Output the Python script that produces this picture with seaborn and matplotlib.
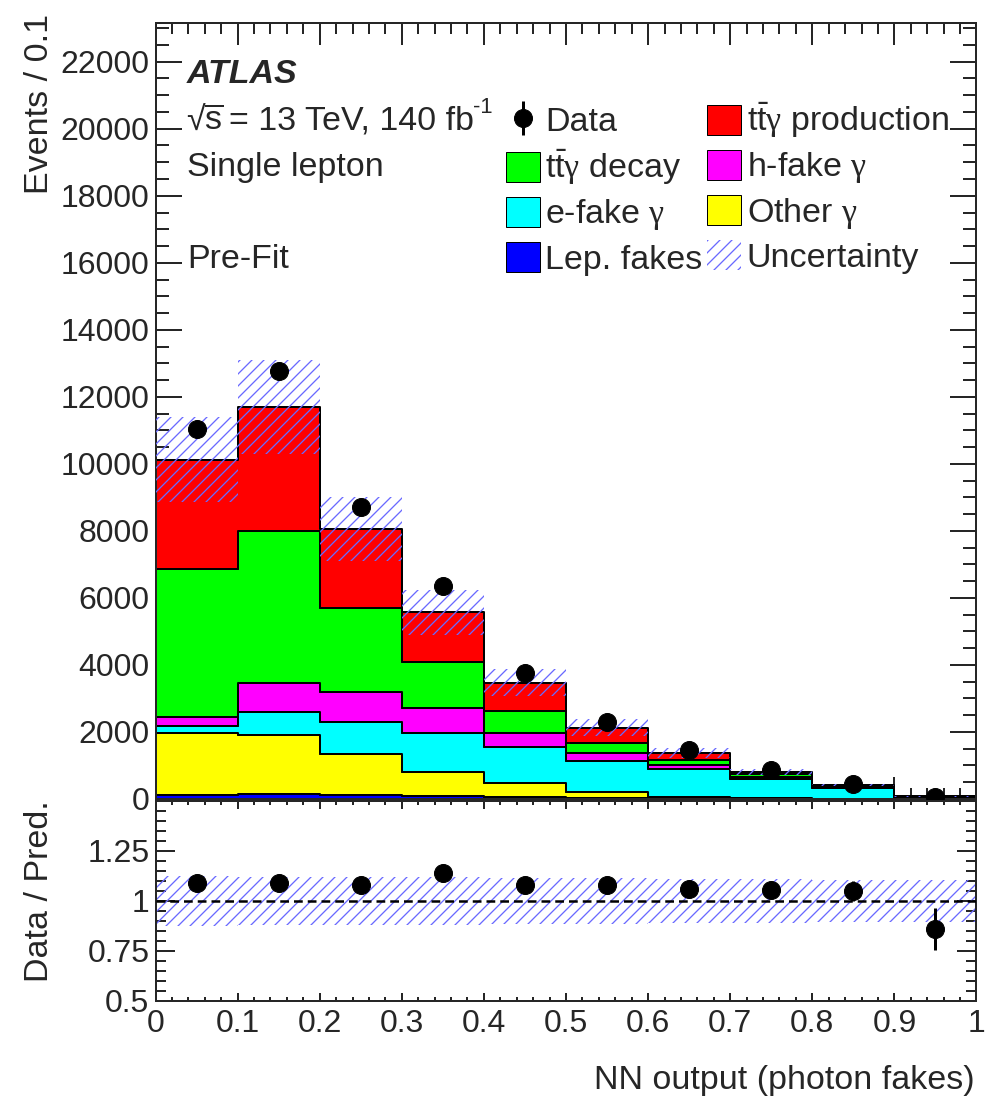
import numpy as np
import pandas as pd
import matplotlib
matplotlib.use("Agg")
import matplotlib.pyplot as plt
from matplotlib.ticker import AutoMinorLocator, FixedLocator, FormatStrFormatter
from matplotlib.patches import Patch
import seaborn as sns

# ---- binning and yields per process (events / 0.1) ----
bin_edges = [0.0, 0.1, 0.2, 0.3, 0.4, 0.5, 0.6, 0.7, 0.8, 0.9, 1.0]

process_labels = [
    r"$\mathrm{t\bar{t}}\mathsf{\gamma}$ production",
    r"$\mathrm{t\bar{t}}\mathsf{\gamma}$ decay",
    r"h-fake $\mathsf{\gamma}$",
    r"e-fake $\mathsf{\gamma}$",
    r"Other $\mathsf{\gamma}$",
    "Lep. fakes",
]
process_colors = ["#ff0000", "#00ff00", "#ff00ff", "#00ffff", "#ffff00", "#0000ff"]

ttgamma_production = [3253, 3712, 2349, 1502, 836, 449, 219, 80, 48, 5]
ttgamma_decay = [4408, 4507, 2507, 1364, 657, 317, 149, 70, 20, 3]
hfake_gamma = [270, 866, 896, 746, 418, 219, 119, 69, 12, 2]
efake_gamma = [230, 700, 975, 1165, 1095, 925, 825, 575, 328, 65]
other_gamma = [1830, 1770, 1210, 700, 410, 190, 50, 10, 5, 1]
lep_fakes = [130, 140, 120, 100, 60, 30, 20, 10, 5, 2]

data_counts = [11030, 12776, 8716, 6358, 3750, 2298, 1463, 860, 438, 67]
rel_uncertainty = [0.125, 0.12, 0.12, 0.12, 0.115, 0.115, 0.11, 0.11, 0.105, 0.105]

# ---- style ----
sns.set_style("ticks")
plt.rcParams["font.family"] = ["Liberation Sans", "DejaVu Sans"]
plt.rcParams["mathtext.fontset"] = "custom"
plt.rcParams["mathtext.rm"] = "Liberation Sans"
plt.rcParams["mathtext.it"] = "Liberation Sans:italic"
plt.rcParams["mathtext.bf"] = "Liberation Sans:bold"
plt.rcParams["mathtext.sf"] = "Liberation Serif"
plt.rcParams["hatch.linewidth"] = 1.3
plt.rcParams["axes.linewidth"] = 2.0

FS = 34
TICK_FS = 32
HATCH_COLOR = "#6a6aff"
HATCH = "//"

edges = np.array(bin_edges)
centers = 0.5 * (edges[:-1] + edges[1:])
yields = [ttgamma_production, ttgamma_decay, hfake_gamma, efake_gamma,
          other_gamma, lep_fakes]
total = np.sum(np.array(yields, dtype=float), axis=0)
data = np.array(data_counts, dtype=float)
unc = np.array(rel_uncertainty)

long_df = pd.DataFrame({
    "x": np.tile(centers, len(process_labels)),
    "w": np.concatenate([np.asarray(v, dtype=float) for v in yields]),
    "process": np.repeat(process_labels, len(centers)),
})
palette = dict(zip(process_labels, process_colors))

W, H = 1000, 1110
fig = plt.figure(figsize=(W / 72, H / 72), dpi=72)
ax = fig.add_axes([155.5 / W, 1 - 799 / H, 821 / W, 776 / H])
rax = fig.add_axes([155.5 / W, 1 - 1001 / H, 821 / W, 200 / H])

# ---- stacked prediction (first hue level ends up on top) ----
sns.histplot(
    data=long_df, x="x", weights="w", hue="process", hue_order=process_labels,
    bins=bin_edges, multiple="stack", element="step", fill=True,
    palette=palette, alpha=1.0, edgecolor="black", linewidth=2.0,
    legend=False, ax=ax,
)

def step(v):
    return np.append(v, v[-1])

# prediction uncertainty band
ax.fill_between(edges, step(total * (1 - unc)), step(total * (1 + unc)),
                step="post", facecolor="none", edgecolor=HATCH_COLOR,
                hatch=HATCH, linewidth=0, zorder=5)

# data
data_handle = ax.errorbar(centers, data, yerr=np.sqrt(data), fmt="o",
                          color="black", markersize=18, elinewidth=3,
                          capsize=0, zorder=10)

ax.set_xlim(0, 1)
ax.set_ylim(0, 23155)
ax.set_xlabel("")
ax.set_ylabel("")
ax.yaxis.set_major_locator(FixedLocator(np.arange(0, 22001, 2000)))
ax.yaxis.set_minor_locator(AutoMinorLocator(4))
ax.xaxis.set_major_locator(FixedLocator(edges))
ax.xaxis.set_minor_locator(AutoMinorLocator(5))
ax.tick_params(axis="both", which="both", direction="in", top=True, right=True,
               labelsize=TICK_FS, width=2)
ax.tick_params(axis="x", which="major", length=22, labelbottom=False)
ax.tick_params(axis="x", which="minor", length=11)
ax.tick_params(axis="y", which="major", length=26, pad=6)
ax.tick_params(axis="y", which="minor", length=13)
for s in ax.spines.values():
    s.set_visible(True)
    s.set_linewidth(2)

# ---- ratio panel ----
ratio = data / total
ratio_err = np.sqrt(data) / total
rax.fill_between(edges, step(1 - unc), step(1 + unc), step="post",
                 facecolor="none", edgecolor=HATCH_COLOR, hatch=HATCH,
                 linewidth=0, zorder=2)
rax.axhline(1.0, color="black", lw=2.5, ls=(0, (3.5, 2)), zorder=3)
rax.errorbar(centers, ratio, yerr=ratio_err, fmt="o", color="black",
             markersize=18, elinewidth=3, capsize=0, zorder=10)
rax.set_xlim(0, 1)
rax.set_ylim(0.5, 1.5)
rax.yaxis.set_major_locator(FixedLocator([0.5, 0.75, 1.0, 1.25]))
rax.yaxis.set_major_formatter(FormatStrFormatter("%g"))
rax.yaxis.set_minor_locator(FixedLocator(np.arange(0.5, 1.501, 0.05)))
rax.xaxis.set_major_locator(FixedLocator(edges))
rax.xaxis.set_major_formatter(FormatStrFormatter("%g"))
rax.xaxis.set_minor_locator(AutoMinorLocator(5))
rax.tick_params(axis="both", which="both", direction="in", top=True, right=True,
                labelsize=TICK_FS, width=2)
rax.tick_params(axis="x", which="major", length=8, pad=8)
rax.tick_params(axis="x", which="minor", length=4)
rax.tick_params(axis="y", which="major", length=19, pad=6)
rax.tick_params(axis="y", which="minor", length=10)
for s in rax.spines.values():
    s.set_visible(True)
    s.set_linewidth(2)

# ---- axis titles ----
fig.text(40 / W, 1 - 14 / H, "Events / 0.1", rotation=90,
         ha="center", va="top", fontsize=FS)
fig.text(40 / W, 1 - 800 / H, "Data / Pred.", rotation=90,
         ha="center", va="top", fontsize=FS)
fig.text(975 / W, 1 - 1080 / H, "NN output (photon fakes)",
         ha="right", va="center", fontsize=FS)

# ---- labels ----
def label(x, y, s, **kw):
    fig.text(x / W, 1 - y / H, s, ha="left", va="baseline", **kw)

label(187, 83, "ATLAS", fontsize=FS, fontweight="bold", fontstyle="italic")
label(186, 130, r"√$\overline{\mathrm{s}}$", fontsize=FS)
label(229, 130, "= 13 TeV, 140 fb", fontsize=FS)
label(473, 113, "-1", fontsize=22)
label(187, 176, "Single lepton", fontsize=FS)
label(187, 268, "Pre-Fit", fontsize=FS)

# ---- legend (column-major order) ----
def box(c):
    return Patch(facecolor=c, edgecolor="black", linewidth=1)

unc_handle = Patch(facecolor="none", edgecolor=HATCH_COLOR, hatch=HATCH,
                   linewidth=0)
handles = [data_handle, box(process_colors[1]), box(process_colors[3]),
           box(process_colors[5]), box(process_colors[0]), box(process_colors[2]),
           box(process_colors[4]), unc_handle]
labels = ["Data", process_labels[1], process_labels[3], process_labels[5],
          process_labels[0], process_labels[2], process_labels[4], "Uncertainty"]
fig.legend(handles, labels, ncol=2, loc="upper left",
           bbox_to_anchor=(506 / W, 1 - 101 / H), frameon=False,
           fontsize=FS, handlelength=1.0, handleheight=0.97,
           handletextpad=0.15, columnspacing=0.15, labelspacing=0.28,
           borderpad=0, borderaxespad=0)

fig.savefig("out.png", dpi=72)
